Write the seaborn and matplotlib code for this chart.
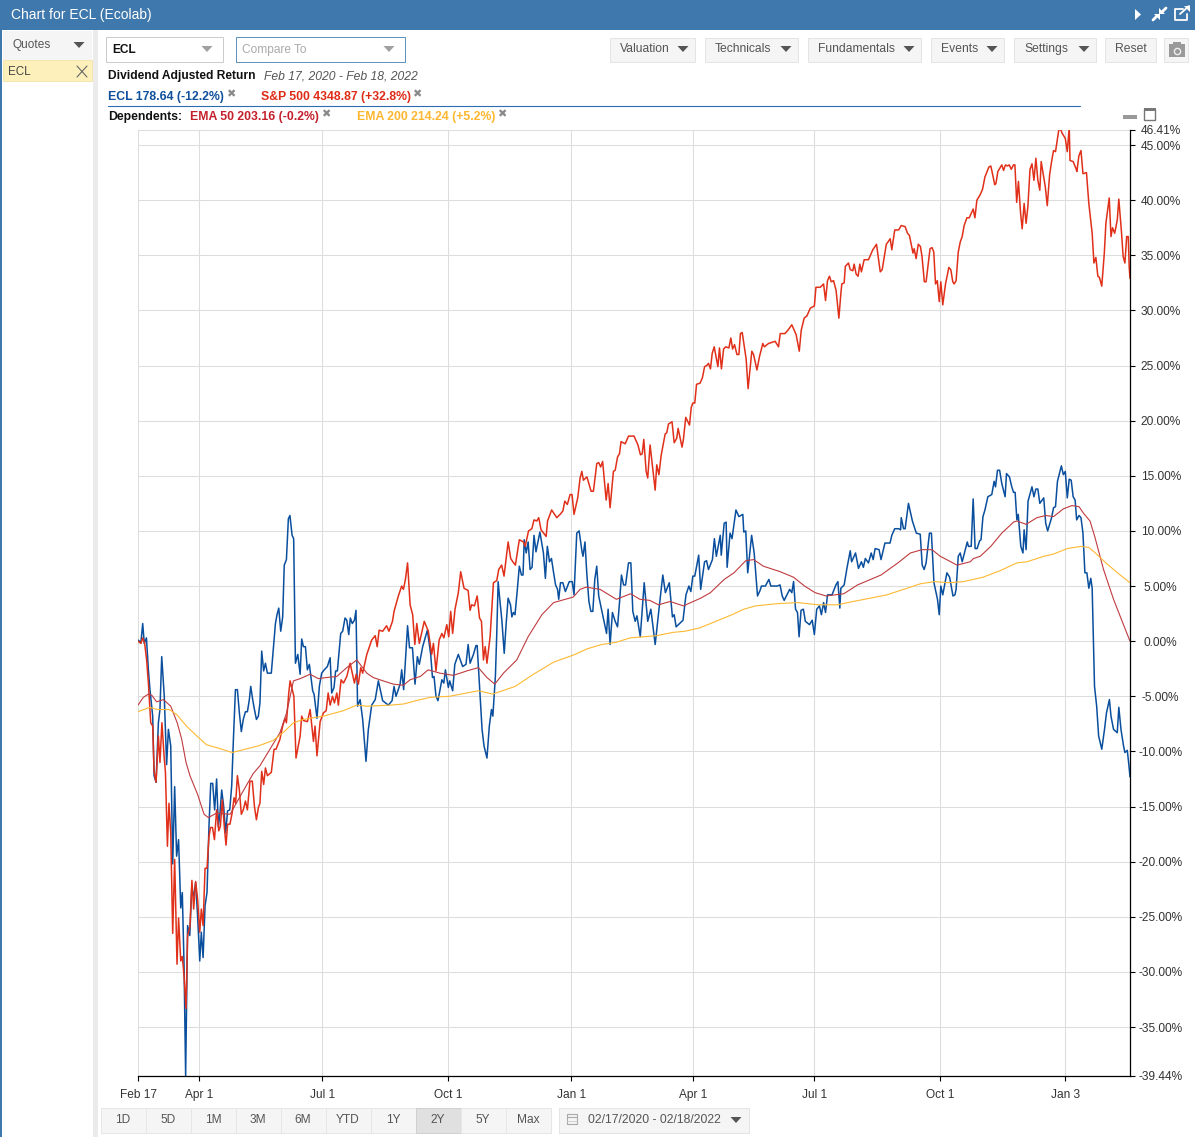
import matplotlib
matplotlib.use('Agg')
import matplotlib.pyplot as plt
import seaborn as sns
from matplotlib.patches import Rectangle, Polygon

# Trading sessions since Feb 17 2020, and return in percent
ecl_sessions = [
    0, 1.5, 2.4, 3.2, 4.3, 5.3, 6.1, 7.5, 8.2, 9.2,
    10.4, 11.2, 12.1, 13.4, 14.6, 15.5, 16.7, 17.7, 18.7, 19.7,
    20.7, 21.8, 22.6, 23.5, 24.3, 25.3, 26.4, 27.4, 28.4, 29.4,
    30.4, 31.5, 32.3, 33.2, 34.2, 35.2, 36.2, 37.1, 38.1, 39.1,
    40.1, 41, 41.8, 42.7, 43.7, 44.7, 45.7, 46.8, 47.8, 48.6,
    49.7, 50.7, 51.7, 52.7, 53.7, 54.8, 55.8, 56.8, 57.5, 58.5,
    59.4, 60.4, 61.4, 62.2, 63.1, 64.1, 65, 66, 67, 68,
    69, 70.1, 70.9, 71.8, 72.8, 73.8, 74.6, 75.7, 76.7, 77.5,
    78.6, 79.4, 80.3, 81.5, 82.7, 83.5, 84.4, 85.4, 86.4, 87.4,
    89.1, 89.8, 91.3, 92.5, 93.7, 95, 96.6, 98, 98.8, 100,
    100.8, 101.7, 103.4, 104.4, 105.6, 106.5, 107.5, 108.3, 109.3, 110.4,
    111.2, 112, 113.3, 114.6, 116.3, 117.5, 119.2, 121, 122.6, 124.8,
    127.7, 129.6, 130.6, 131.6, 133.7, 134.5, 135.5, 137.5, 138.5, 140,
    141.3, 142.5, 143.5, 145.2, 147.6, 149.3, 150.2, 151, 152, 153,
    155, 156, 156.8, 158.3, 159, 160.5, 161.6, 163.4, 165.6, 167.3,
    168.4, 169.4, 171.1, 172.4, 173, 174.5, 175.5, 176.5, 178, 179.2,
    180.3, 181, 182.3, 183, 183.7, 184.7, 185.6, 186.8, 187.8, 188.8,
    190, 190.7, 191.5, 192.3, 193.5, 194.5, 195.6, 196.4, 197, 198,
    199, 200, 201, 202, 203, 205, 206.8, 207.8, 208.8, 209.9,
    210.9, 212, 213, 214, 214.6, 215.5, 216.7, 218, 220, 221.5,
    222.4, 223.8, 225, 226.5, 227, 228, 228.9, 230, 231, 232,
    233, 234, 235, 237, 239, 239.8, 240.8, 242, 243.4, 244.6,
    245.6, 246.6, 247.7, 248.7, 250.2, 251.4, 252.4, 253.6, 254.5, 256.2,
    258.2, 260, 261.6, 263.8, 266.3, 267.7, 269, 271, 272.6, 273.5,
    274.5, 278, 279.5, 281, 282, 283, 284, 286, 287, 289,
    290, 291, 293, 294, 295, 297, 297.5, 299, 300, 300.5,
    302, 303, 305, 306.5, 308.5, 309, 310, 311, 313, 314.3,
    316, 317.3, 318, 320, 321.8, 322.8, 326, 327.5, 328.6, 329.6,
    332.4, 333.5, 334.4, 335.4, 336.4, 337.2, 338.2, 339.4, 340.4, 342.5,
    343.9, 345, 346.2, 347.6, 348.6, 349.7, 350.7, 351.7, 354, 356,
    357, 358, 358.5, 360.2, 361.6, 363.3, 364, 366, 367.5, 369,
    370, 371, 372.6, 374, 375, 376, 378, 379, 381, 383.6,
    384.5, 386, 388, 389, 389.3, 390.5, 391.3, 393, 395, 397,
    399, 400, 401, 402, 403.7, 404.7, 406, 407.8, 408.7, 409.5,
    410.5, 412.6, 414, 415.7, 416.7, 417.3, 418.4, 419.4, 420.4, 423,
    423.6, 425, 426, 427, 428, 429.3, 430, 431, 432, 433.5,
    435.5, 436.7, 437.4, 438.4, 439.5, 440.6, 442.3, 443, 444.5, 445.7,
    446.6, 447.4, 448.3, 449, 450.3, 451.4, 452, 453, 454, 456,
    457, 458, 459, 460, 462, 463, 464, 466, 467, 468,
    469, 471, 472, 473, 474, 475, 476, 477, 478, 478.8,
    480, 481, 482, 483, 484, 485, 486, 486.7, 487.9, 489,
    490, 491.6, 493, 494, 495.5, 496.3, 497.6, 499.5, 500.3, 501.4,
    502.7, 503.4, 504.6, 505.3, 506,
]
ecl_pct = [
    0.1, -0.1, 1.6, -0.2, 0.3, -2.6, -4.4, -6.8, -12.2, -12.8,
    -7.4, -6.2, -1.4, -5.0, -11.2, -8.0, -9.5, -20.2, -13.2, -19.5,
    -18.0, -24.2, -22.8, -29.5, -39.4, -25.8, -26.7, -22.5, -23.1, -21.9,
    -24.9, -29.0, -26.4, -28.7, -24.0, -22.8, -16.8, -12.9, -12.9, -15.3,
    -12.5, -16.8, -15.6, -13.5, -15.0, -17.4, -15.4, -15.3, -13.1, -9.2,
    -4.4, -4.4, -6.5, -8.2, -7.1, -6.4, -6.4, -5.3, -4.1, -5.3,
    -6.2, -7.1, -6.8, -5.6, -0.9, -2.7, -2.0, -2.9, -2.9, -2.9,
    -0.8, 1.6, 2.4, 3.0, 0.9, 2.2, 6.9, 7.4, 11.1, 11.4,
    9.6, 9.3, -2.0, -1.2, -3.0, 0.2, -0.5, -0.5, -2.6, -2.1,
    -4.5, -4.8, -7.0, -4.1, -2.9, -2.6, -2.3, -1.5, -4.7, -4.2,
    -2.7, -2.7, 0.7, 0.9, 2.1, 1.9, 0.6, 2.1, 1.6, 1.9,
    2.8, -5.9, -5.3, -7.1, -10.9, -8.0, -5.8, -5.3, -3.6, -5.4,
    -5.8, -5.4, -4.1, -5.0, -3.9, -2.6, -4.4, 1.4, -0.6, -0.6,
    -3.9, -1.4, -2.1, -0.5, 1.0, -1.2, -3.3, -3.2, -5.0, -5.4,
    -3.5, -3.8, -2.6, -4.2, -3.6, -4.5, -2.1, -1.2, -2.3, -2.1,
    -0.3, -2.0, -1.2, -0.4, -0.4, -5.0, -8.0, -9.5, -10.6, -7.7,
    -6.2, -6.8, -3.2, 0.7, 5.4, 3.5, 1.9, -1.1, 1.6, 3.9,
    3.3, 2.2, 2.6, 2.4, 4.7, 6.8, 6.0, 6.0, 9.2, 8.0,
    9.0, 6.5, 6.7, 9.6, 8.1, 9.9, 8.0, 5.7, 8.6, 7.2,
    7.5, 6.2, 5.1, 4.7, 3.8, 5.3, 5.3, 4.5, 5.4, 5.4,
    4.2, 9.8, 10.0, 8.1, 7.7, 9.0, 6.2, 3.6, 2.7, 2.7,
    5.6, 6.8, 4.1, 2.4, 0.7, 2.9, -0.3, 2.6, 1.8, 1.3,
    3.5, 6.0, 5.1, 5.1, 7.1, 7.1, 2.7, 1.8, 2.3, 0.4,
    5.3, 1.8, 2.9, -0.3, 3.8, 6.0, 4.4, 5.3, 2.2, 2.4,
    1.3, 1.9, 4.2, 5.0, 4.5, 5.9, 5.9, 7.8, 4.7, 7.2,
    7.3, 6.5, 7.4, 9.3, 7.7, 9.6, 7.8, 10.7, 10.8, 6.7,
    9.8, 9.3, 11.9, 11.3, 11.5, 9.9, 10.0, 6.2, 9.6, 8.0,
    4.1, 4.6, 5.0, 5.0, 5.6, 5.0, 5.0, 5.1, 4.1, 3.7,
    4.7, 4.4, 5.4, 2.9, 2.6, 0.4, 2.8, 2.9, 1.8, 1.5,
    1.9, 0.6, 2.9, 3.2, 2.4, 3.5, 2.6, 4.2, 4.2, 5.1,
    5.4, 3.0, 4.8, 5.1, 6.6, 8.2, 7.2, 8.0, 6.6, 7.2,
    6.7, 7.5, 7.1, 8.0, 7.4, 8.4, 8.3, 7.4, 8.9, 8.9,
    9.6, 10.2, 10.2, 10.1, 11.2, 10.2, 10.2, 12.5, 10.9, 9.8,
    9.7, 6.9, 6.5, 7.1, 9.8, 9.8, 5.3, 3.8, 2.4, 5.0,
    4.2, 6.2, 5.8, 4.1, 4.2, 4.7, 7.7, 8.0, 7.2, 9.0,
    8.6, 8.6, 12.9, 8.4, 8.4, 9.1, 9.2, 11.3, 11.9, 13.1,
    13.3, 14.5, 14.0, 15.5, 15.5, 14.3, 13.1, 15.2, 14.9, 14.0,
    13.5, 13.5, 11.0, 11.5, 8.6, 8.0, 10.1, 8.3, 12.7, 14.0,
    13.1, 13.8, 13.8, 12.5, 13.0, 10.7, 10.0, 11.2, 12.1, 12.2,
    14.5, 15.9, 15.1, 15.4, 13.0, 14.7, 14.6, 13.1, 12.8, 11.0,
    11.4, 11.2, 9.8, 6.2, 6.2, 4.8, 5.7, 4.8, -4.1, -5.9,
    -8.6, -9.8, -8.0, -6.5, -5.3, -6.8, -8.0, -8.3, -6.0, -8.0,
    -9.5, -10.1, -9.9, -11.0, -12.3,
]

sp500_sessions = [
    0, 1.5, 2.4, 3.4, 4.4, 5.3, 6.5, 7.5, 8.2, 9.2,
    10.4, 11.2, 12.2, 13.3, 14, 15, 15.8, 16.7, 17.7, 18.7,
    19.9, 20.7, 21.8, 22.6, 23.5, 24.5, 25.3, 26.5, 27.5, 28.4,
    29.4, 30.4, 31.5, 32.3, 33.2, 34.2, 35.2, 36.2, 37, 38,
    39, 40.1, 41.2, 42, 43, 44, 44.9, 45.7, 46.9, 48,
    49, 49.8, 50.7, 51.7, 52.7, 53.7, 54.8, 55.8, 57.1, 58.3,
    59.4, 60.4, 61.4, 62.2, 63.1, 64.1, 65, 66, 68, 69.4,
    70.4, 72.4, 73.8, 75, 75.7, 76.9, 77.6, 79.5, 80.6, 82.7,
    83.5, 84.4, 86.4, 87.8, 89.5, 90.3, 91.3, 92.9, 94.6, 96,
    97, 98, 99.2, 100.2, 101.4, 102.2, 103.6, 104.8, 106.5, 108.2,
    110.4, 111.3, 112.4, 113.6, 114.6, 116.7, 119.2, 121, 122, 123,
    124.8, 126.8, 128, 129.8, 130.6, 132.8, 134.5, 135.4, 136.4, 137.5,
    138.8, 140.1, 141.2, 142.2, 143.5, 146, 148.1, 149.8, 150.7, 152,
    153.6, 155, 156, 157.5, 158.5, 159.5, 160.5, 161.7, 163.4, 164.6,
    166.3, 168.4, 169.4, 170.2, 171.6, 173, 174.2, 175.2, 176.2, 177.1,
    178, 179.6, 181.3, 183, 184, 185.5, 186.7, 188.8, 190.1, 191.2,
    192.5, 194.5, 196.6, 197.5, 199.2, 200.9, 202, 203.4, 204.4, 205.6,
    208.2, 208.9, 211, 213.6, 215.3, 216.7, 217.7, 219, 220.4, 221.4,
    222.4, 224.3, 225.5, 226.4, 227.2, 229, 231.1, 232.3, 234, 235,
    236, 237, 238.8, 239.8, 240.8, 242.5, 243.4, 244.6, 245.6, 246.4,
    248.5, 250.2, 253, 255, 256.3, 257.2, 258, 259.2, 260, 261.2,
    263.8, 264.6, 265.7, 266.9, 268.9, 269.7, 270.6, 272.4, 273.5, 274.8,
    275.5, 277.5, 278.2, 279.4, 281.3, 282.2, 283, 284, 284.9, 286.7,
    287.9, 289, 290.1, 291, 292, 292.9, 293.9, 295.8, 296.6, 297.6,
    298.7, 299.8, 301.4, 302.4, 303.3, 304.3, 305.5, 306.5, 307.3, 308.2,
    310.2, 311.2, 313.1, 314, 315.7, 317, 318.7, 319.5, 321.6, 325,
    326.7, 327.6, 330, 331.5, 333.5, 335.7, 337.3, 338.3, 339.8, 341.2,
    342.9, 345, 345.8, 348, 349.7, 350.7, 351.7, 352.7, 353.6, 354.8,
    356.1, 357.5, 358.5, 359, 360.2, 360.8, 362.4, 363.3, 364.6, 365.3,
    366.3, 367.3, 368.2, 369, 370.4, 372.6, 374.8, 376.7, 378.6, 379.6,
    381.7, 383.7, 384.5, 386, 388, 389.3, 391.3, 392.5, 393.5, 395.3,
    395.9, 396.9, 398, 399.1, 399.9, 401.1, 402, 404, 405, 405.9,
    406.8, 407.7, 408.7, 409.5, 410.5, 411.9, 413.6, 414.6, 415.6, 416.3,
    417.3, 418.4, 419.4, 420.4, 421.4, 422.8, 424, 426, 426.9, 427.9,
    429.6, 430.8, 432, 434, 435, 435.5, 437, 437.6, 438.6, 440.6,
    441.5, 442.5, 443.5, 444.4, 445.4, 446.6, 447.3, 448.2, 449.1, 450.2,
    451, 452, 453, 453.9, 455, 456, 457, 458, 459, 460,
    460.7, 462, 462.8, 463.8, 465, 466, 467, 468, 469.7, 470.7,
    471.3, 473, 474, 475, 475.4, 477, 478.6, 478.9, 479.9, 481,
    482, 483.8, 485, 486.7, 487.6, 488.6, 489.6, 490.4, 491.6, 492.9,
    493.7, 494.6, 495.4, 496.3, 497.1, 498.2, 499.5, 500.3, 501.7, 502.5,
    503.4, 504.3, 505.1, 505.6, 506,
]
sp500_pct = [
    0, -0.2, 0.3, -0.2, -1.7, -3.8, -7.4, -7.7, -11.8, -12.8,
    -8.6, -11.0, -7.4, -10.4, -11.9, -18.6, -14.7, -17.4, -26.5, -19.8,
    -29.3, -25.1, -29.0, -28.6, -30.4, -33.3, -26.7, -25.9, -21.7, -24.3,
    -21.8, -23.4, -26.4, -24.3, -25.8, -20.6, -20.6, -17.7, -16.9, -16.9,
    -18.0, -15.3, -17.2, -16.8, -14.4, -16.8, -18.5, -16.6, -16.6, -15.6,
    -14.2, -14.7, -12.2, -13.5, -15.7, -15.3, -14.5, -15.3, -12.7, -12.7,
    -15.0, -16.2, -15.1, -14.7, -11.8, -13.0, -11.5, -12.2, -11.9, -9.8,
    -9.8, -8.9, -7.7, -7.0, -7.4, -4.7, -3.6, -5.0, -10.6, -8.6,
    -6.8, -7.2, -7.3, -6.2, -9.1, -7.7, -10.4, -7.3, -6.5, -6.3,
    -4.7, -5.8, -5.0, -5.6, -4.7, -5.8, -3.5, -3.8, -3.2, -2.0,
    -3.8, -3.0, -3.9, -2.4, -2.9, -1.2, 0.1, 0.5, -0.5, 1.0,
    0.9, 1.4, 0.9, 1.8, 2.7, 4.1, 5.0, 4.7, 5.6, 7.1,
    3.3, 2.4, -0.3, 1.6, -0.2, 1.8, 0.9, -1.2, -0.2, -2.7,
    0.1, 0.7, 0.3, 1.5, 0.4, 2.7, 0.7, 2.9, 4.4, 6.3,
    4.8, 4.6, 2.8, 3.3, 3.2, 4.1, 2.1, 1.8, -1.7, -0.5,
    -2.0, 0.4, 5.3, 5.5, 6.5, 6.9, 5.9, 9.0, 7.5, 7.2,
    6.9, 9.2, 9.0, 8.6, 10.0, 10.2, 11.0, 10.9, 11.2, 10.1,
    9.5, 10.9, 11.9, 11.2, 11.5, 11.8, 12.7, 12.4, 13.3, 13.3,
    11.5, 13.0, 14.8, 15.4, 14.6, 14.9, 13.6, 13.6, 16.1, 16.2,
    15.8, 16.3, 12.8, 14.3, 12.1, 15.4, 15.5, 16.7, 17.0, 18.1,
    17.9, 18.6, 18.6, 17.8, 16.9, 17.0, 18.3, 15.4, 14.8, 17.8,
    13.7, 16.0, 15.1, 16.9, 18.8, 18.9, 19.7, 19.9, 18.0, 18.4,
    19.3, 17.6, 18.3, 20.3, 19.6, 21.2, 21.6, 21.6, 23.3, 23.4,
    23.9, 24.9, 25.0, 25.2, 24.7, 26.1, 26.7, 24.9, 26.6, 24.7,
    26.5, 26.7, 26.6, 27.5, 26.5, 26.9, 26.0, 26.0, 27.9, 28.0,
    25.6, 22.9, 26.3, 26.0, 24.6, 25.8, 27.0, 26.7, 27.0, 27.2,
    26.7, 27.9, 27.9, 28.2, 28.7, 27.8, 26.3, 28.2, 29.3, 29.5,
    30.2, 30.4, 32.1, 32.1, 32.4, 30.9, 32.7, 33.1, 32.6, 32.7,
    31.8, 29.3, 31.5, 32.4, 32.5, 34.0, 34.3, 33.7, 33.6, 34.2,
    33.3, 33.1, 34.2, 33.5, 34.6, 34.6, 35.5, 36.0, 33.5, 33.7,
    36.0, 36.5, 35.5, 37.3, 37.3, 37.7, 37.6, 37.0, 36.8, 35.2,
    35.6, 34.7, 36.0, 35.8, 34.9, 32.6, 32.6, 35.6, 35.7, 35.3,
    32.4, 32.7, 30.8, 32.6, 30.5, 32.4, 33.9, 33.7, 32.6, 32.4,
    32.7, 35.3, 36.2, 36.7, 37.7, 38.4, 38.4, 39.2, 38.4, 40.0,
    40.5, 41.0, 42.1, 43.0, 43.1, 42.7, 41.4, 41.5, 42.6, 43.2,
    42.7, 43.2, 43.1, 43.2, 42.8, 43.2, 43.2, 39.8, 41.7, 38.8,
    37.4, 39.7, 37.9, 39.4, 42.8, 43.3, 41.8, 43.8, 41.8, 40.9,
    43.5, 42.1, 41.2, 39.5, 42.3, 43.5, 44.5, 44.4, 46.4, 46.4,
    46.1, 45.6, 44.4, 46.6, 43.6, 43.5, 42.8, 42.6, 44.0, 44.5,
    42.4, 42.5, 39.7, 37.0, 34.3, 34.8, 33.1, 33.0, 32.2, 35.2,
    37.9, 39.1, 40.2, 36.7, 37.5, 37.0, 38.2, 40.1, 37.0, 34.9,
    34.3, 36.7, 36.7, 33.9, 32.9,
]

ema50_sessions = [
    0, 2.7, 5.3, 7, 9.5, 13, 16.7, 20, 22.3, 24.5,
    26.5, 30.4, 33.7, 35.9, 40, 47, 52, 58.8, 62.2, 65.6,
    72.4, 75.8, 79.3, 82.7, 87.8, 92, 96, 101.4, 106.5, 111.6,
    116.7, 120, 125, 130.3, 135.4, 138.8, 144, 148, 154, 160.9,
    167.7, 173.6, 178, 182, 186.4, 193.2, 199, 206, 212, 222,
    225.5, 228.6, 235.7, 244, 251.3, 256, 261, 265.5, 271.4, 278.2,
    287, 292, 299, 304, 310, 314, 319, 327.6, 334.4, 340,
    345.4, 351, 360, 367, 379, 387.6, 394, 399.9, 405, 409.2,
    414.6, 417.7, 424.5, 426.2, 429.6, 435, 440.6, 446.6, 448.3, 453,
    458.5, 463, 467, 472, 476.4, 480, 482.3, 485.6, 488, 492.5,
    497.6, 502, 506,
]
ema50_pct = [
    -5.8, -5.1, -4.8, -4.9, -5.5, -5.3, -5.9, -7.4, -8.9, -11.0,
    -12.2, -13.9, -15.7, -16.0, -15.6, -15.7, -14.1, -12.0, -11.3, -10.3,
    -8.3, -6.5, -3.6, -3.4, -3.0, -3.4, -3.3, -3.2, -2.4, -1.7,
    -2.9, -3.3, -3.6, -3.9, -4.0, -3.5, -3.2, -2.6, -2.9, -3.1,
    -2.7, -2.4, -3.3, -3.9, -2.9, -1.7, 0.4, 2.4, 3.5, 4.0,
    4.7, 4.9, 4.7, 3.8, 4.3, 3.8, 3.7, 3.3, 3.6, 3.2,
    3.9, 4.4, 5.6, 6.2, 7.3, 7.4, 6.8, 6.3, 5.8, 5.0,
    4.4, 4.1, 4.3, 5.1, 6.0, 7.1, 8.0, 8.3, 8.3, 7.7,
    7.2, 6.9, 7.2, 7.5, 7.7, 8.6, 9.8, 10.8, 10.9, 10.6,
    11.2, 11.4, 11.3, 12.0, 12.3, 12.2, 11.6, 10.9, 9.5, 6.5,
    3.8, 1.8, 0,
]

ema200_sessions = [
    0, 6, 10, 16, 20, 24.7, 30, 35, 41, 48,
    54.6, 61.4, 69, 74, 79.3, 84.4, 91, 94.6, 104.8, 111.6,
    116.7, 128.6, 135.4, 144, 149, 158.9, 167.7, 173.6, 181, 192.4,
    201.7, 212, 223, 229, 236.6, 244, 251, 264.6, 273, 279,
    286.4, 292, 303, 309, 315, 326, 336.4, 347, 357, 362,
    382, 399, 406, 414, 421, 431, 439.8, 448.3, 453.4, 462,
    467, 474, 481, 485, 488.3, 494.3, 501, 506,
]
ema200_pct = [
    -6.4, -6.0, -6.2, -6.2, -6.7, -7.7, -8.6, -9.4, -9.7, -10.1,
    -9.8, -9.5, -9.0, -8.3, -7.4, -7.1, -6.9, -6.8, -6.3, -5.8,
    -5.9, -5.8, -5.7, -5.3, -5.1, -5.0, -4.7, -4.5, -4.8, -4.1,
    -3.0, -1.9, -1.2, -0.7, -0.3, -0.1, 0.3, 0.5, 0.8, 0.9,
    1.2, 1.6, 2.4, 2.9, 3.2, 3.4, 3.5, 3.3, 3.3, 3.5,
    4.2, 5.2, 5.4, 5.3, 5.4, 5.8, 6.4, 7.1, 7.2, 7.7,
    7.9, 8.4, 8.6, 8.5, 8.0, 7.0, 6.0, 5.3,
]

x_tick_sessions = [0, 31, 94, 158, 221, 283, 345, 409, 473]
x_tick_labels = ['Feb 17', 'Apr 1', 'Jul 1', 'Oct 1', 'Jan 1', 'Apr 1', 'Jul 1', 'Oct 1', 'Jan 3']
y_ticks = [46.41, 45, 40, 35, 30, 25, 20, 15, 10, 5, 0, -5, -10, -15, -20, -25, -30, -35, -39.44]

range_buttons = ['1D', '5D', '1M', '3M', '6M', 'YTD', '1Y', '2Y', '5Y', 'Max']
menu_buttons = ['Valuation', 'Technicals', 'Fundamentals', 'Events', 'Settings']

sns.set_style('white')
plt.rcParams['font.family'] = ['Liberation Sans', 'DejaVu Sans']

W, H = 1195, 1137
fig = plt.figure(figsize=(W / 100, H / 100), dpi=100, facecolor='white')

# Page furniture, drawn in pixel coordinates
ui = fig.add_axes([0, 0, 1, 1], zorder=0)
ui.set_xlim(0, W)
ui.set_ylim(H, 0)
ui.axis('off')


def box(x0, y0, x1, y1, fc='#f5f5f5', ec='#e4e4e4', lw=0.72):
    ui.add_patch(Rectangle((x0, y0), x1 - x0, y1 - y0, fc=fc, ec=ec, lw=lw))


def label(x, y, s, size=8.6, color='#555555', **kw):
    ui.text(x, y + 0.8, s, fontsize=size, color=color, va='center', **kw)


def caret(x, y, color='#555555'):
    ui.add_patch(Polygon([(x - 5.5, y - 3), (x + 5.5, y - 3), (x, y + 3)], fc=color, ec='none'))


def cross(x, y):
    ui.text(x, y, '\u2716', fontsize=8, color='#8a8a8a', ha='center', va='center',
            family=['DejaVu Sans'])


box(0, 0, W, 30, fc='#3f78ac', ec='none')
box(0, 30, 2, H, fc='#3f78ac', ec='none')
box(93, 30, 98, H, fc='#ebebeb', ec='none')
label(11, 14, 'Chart for ECL (Ecolab)', size=10, color='white')

# title bar icons
ui.add_patch(Polygon([(1135, 9), (1141, 14.5), (1135, 20)], fc='white', ec='none'))
ui.plot([1153, 1157], [20, 16], color='white', lw=2)
ui.plot([1162, 1166], [12, 8], color='white', lw=2)
ui.add_patch(Polygon([(1154, 14), (1160, 14), (1160, 20)], fc='white', ec='none'))
ui.add_patch(Polygon([(1159, 8), (1159, 14), (1165, 14)], fc='white', ec='none'))
ui.plot([1183, 1175, 1175, 1187, 1187], [9, 9, 20, 20, 14], color='white', lw=1.3)
ui.plot([1180, 1189], [14, 6], color='white', lw=1.3)
ui.add_patch(Polygon([(1184, 6), (1190, 6), (1190, 12)], fc='white', ec='none'))

# left panel
box(3, 31, 92, 60, ec='none')
label(13, 44.5, 'Quotes')
caret(79, 45)
box(3, 60, 92, 81, fc='#fdf0bb', ec='#f3e6b0')
label(8, 71, 'ECL', size=8.4, color='#444444')
ui.plot([77, 87], [66, 77], color='#666666', lw=0.8)
ui.plot([77, 87], [77, 66], color='#666666', lw=0.8)

# selectors
box(106.5, 36.5, 223.5, 61.5, fc='white', ec='#cccccc')
label(112, 49, 'ECL', color='#111111', fontweight='bold')
caret(207, 49, '#a0a0a0')
box(236.5, 36.5, 405.5, 61.5, fc='white', ec='#5f93bf')
label(242, 49, 'Compare To', color='#aaaaaa')
caret(389, 49, '#a0a0a0')

# top right buttons
menu_left = [610, 705, 808, 931, 1014]
menu_right = [695, 798, 921, 1004, 1096]
for name, x0, x1 in zip(menu_buttons, menu_left, menu_right):
    box(x0 + 0.5, 37.5, x1 + 0.5, 61.5)
    label(x0 + 10, 48.5, name, size=8.7)
    caret(x1 - 12, 49)
box(1105.5, 37.5, 1156.5, 61.5)
label(1130.5, 48.5, 'Reset', ha='center', size=8.7)
box(1164.5, 37.5, 1188.5, 61.5)
ui.add_patch(Rectangle((1169, 44), 16, 13, fc='#999999', ec='none'))
ui.add_patch(Rectangle((1173, 42), 8, 3, fc='#999999', ec='none'))
ui.plot([1177], [50.5], 'o', ms=4.5, mfc='#999999', mec='#eeeeee', mew=1)

# header lines
label(108, 75.5, 'Dividend Adjusted Return', color='#111111', fontweight='bold', size=8.65)
label(264, 75.5, 'Feb 17, 2020 - Feb 18, 2022', color='#555555', fontstyle='italic', size=8.75)
label(108, 96, 'ECL 178.64 (-12.2%)', color='#0f4f9c', fontweight='bold', size=8.8)
cross(231, 94)
label(261, 96, 'S&P 500 4348.87 (+32.8%)', color='#de2b17', fontweight='bold', size=8.8)
cross(417, 94)
ui.plot([108, 1080], [106, 106], color='#2a6db0', lw=0.8)
label(108, 116, 'Dependents:', color='#111111', fontweight='bold', size=8.8)
label(190, 116, 'EMA 50 203.16 (-0.2%)', color='#c4202c', fontweight='bold', size=8.8)
cross(326, 114)
label(357, 116, 'EMA 200 214.24 (+5.2%)', color='#fdb62f', fontweight='bold', size=8.8)
cross(502, 114)
box(1123, 114.5, 1137, 118.5, fc='#999999', ec='none')
box(1144.5, 108.5, 1155.5, 119.5, fc='white', ec='#777777', lw=1)
box(1144, 108, 1156, 111, fc='#777777', ec='none')

# bottom range buttons
for i, name in enumerate(range_buttons):
    x0 = 101 + i * 45
    selected = name == '2Y'
    box(x0 + 0.5, 1107.5, x0 + 45.5, 1132.5, fc='#e0e0e0' if selected else '#f5f5f5',
        ec='#d0d0d0' if selected else '#e6e6e6')
    label(x0 + 22, 1119.5, name, ha='center')
box(559.5, 1107.5, 749.5, 1132.5)
label(588, 1119.5, '02/17/2020 - 02/18/2022', size=8.75)
caret(736, 1120)
ui.add_patch(Rectangle((567, 1114), 10, 10, fc='#f5f5f5', ec='#aaaaaa', lw=0.8))
ui.plot([567, 577], [1117, 1117], color='#aaaaaa', lw=0.8)
ui.plot([567, 577], [1120.5, 1120.5], color='#cccccc', lw=0.6)

# The chart itself
left, right, top, bottom = 138, 1130, 129.5, 1076
ax = fig.add_axes([left / W, 1 - bottom / H, (right - left) / W, (bottom - top) / H], zorder=1)
ax.set_facecolor('white')

sns.lineplot(x=ecl_sessions, y=ecl_pct, ax=ax, color='#0a4f9e', lw=1.1,
             estimator=None, sort=False)
sns.lineplot(x=sp500_sessions, y=sp500_pct, ax=ax, color='#e0301a', lw=1.1,
             estimator=None, sort=False)
sns.lineplot(x=ema50_sessions, y=ema50_pct, ax=ax, color='#bf3b3f', lw=0.8,
             estimator=None, sort=False)
sns.lineplot(x=ema200_sessions, y=ema200_pct, ax=ax, color='#fdb933', lw=0.8,
             estimator=None, sort=False)

ax.set_xlim(0, 506)
ax.set_ylim(-39.44, 46.41)
ax.set_xlabel('')
ax.set_ylabel('')
ax.grid(True, color='#dddddd', lw=0.75)
ax.set_axisbelow(True)

ax.set_xticks(x_tick_sessions, x_tick_labels)
ax.set_yticks(y_ticks, [f'{v:.2f}%' for v in y_ticks])
ax.yaxis.tick_right()
ax.tick_params(axis='y', length=5 / 1.39, width=0.8, color='black', labelsize=8.6,
               labelcolor='#333333', pad=18.5, right=True)
ax.tick_params(axis='x', length=5 / 1.39, width=0.8, color='black', labelsize=8.6,
               labelcolor='#333333', pad=5.5, bottom=True)
for t in ax.get_yticklabels():
    t.set_ha('center')

for side in ['top', 'left']:
    ax.spines[side].set_visible(False)
for side in ['right', 'bottom']:
    ax.spines[side].set_visible(True)
    ax.spines[side].set_color('black')
    ax.spines[side].set_linewidth(0.9)

fig.savefig('out.png', dpi=100)
